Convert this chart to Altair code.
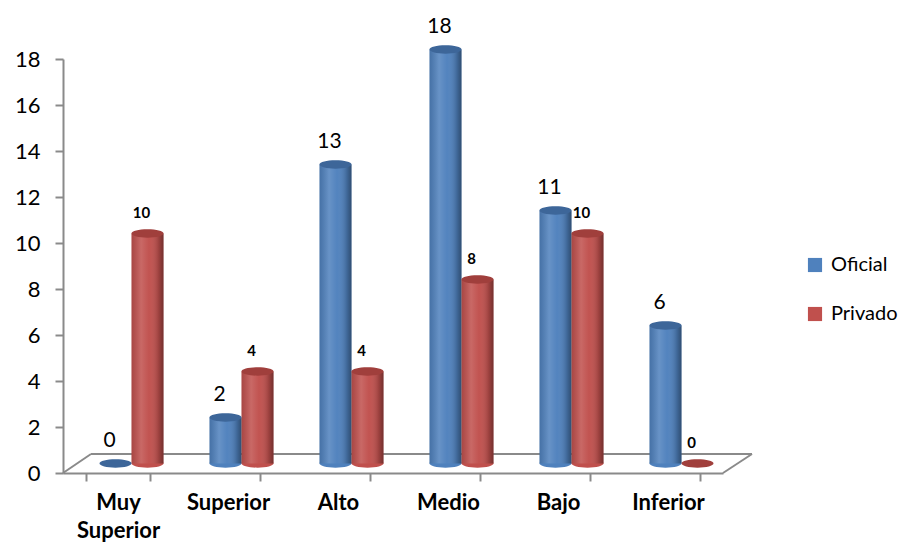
import altair as alt
import pandas as pd

categories = ["Muy Superior", "Superior", "Alto", "Medio", "Bajo", "Inferior"]
series = ["Oficial", "Privado"]
oficial = [0, 2, 13, 18, 11, 6]
privado = [10, 4, 4, 8, 10, 0]
y_ticks = [0, 2, 4, 6, 8, 10, 12, 14, 16, 18]

rows = []
for c, o, p in zip(categories, oficial, privado):
    rows.append({"cat": c, "series": "Oficial", "value": o})
    rows.append({"cat": c, "series": "Privado", "value": p})
df = pd.DataFrame(rows)

FONT = "Lato"
GREY = "#8a8a8a"
DX = 13.5
DY = -9.5
W, H = 660, 414
DEPTH_X, DEPTH_Y = 28, 19

base_colors = ["#4F81BD", "#C0504D"]
top_colors = ["#3D6699", "#A03F3C"]

ELLIPSE = "M-1,0 A1,0.26,0,1,0,1,0 A1,0.26,0,1,0,-1,0 Z"

# axis scale (unshifted)
x_axis_enc = alt.X(
    "cat:N", sort=categories,
    scale=alt.Scale(paddingInner=0.418, paddingOuter=0.209),
    axis=alt.Axis(
        title=None, labelAngle=0, labelFont=FONT, labelFontSize=22,
        labelFontWeight="bold", labelColor="black", tickBand="extent",
        tickSize=8, tickColor=GREY, tickWidth=2, domainColor=GREY,
        domainWidth=2, labelPadding=11, labelLineHeight=28,
        labelExpr="datum.value == 'Muy Superior' ? ['Muy', 'Superior'] : datum.value",
    ),
)
# data scale (shifted right by the 3D depth)
x_enc = alt.X(
    "cat:N", sort=categories,
    scale=alt.Scale(paddingInner=0.418, paddingOuter=0.209, range=[DX, W + DX]),
    axis=None,
)
xo_enc = alt.XOffset("series:N", sort=series, scale=alt.Scale(paddingInner=0, paddingOuter=0))
y_enc = alt.Y(
    "value:Q",
    scale=alt.Scale(domain=[0, 18], nice=False),
    axis=alt.Axis(
        title=None, values=y_ticks, grid=False, labelFont=FONT, labelFontSize=22,
        labelColor="black", tickSize=8, tickColor=GREY, tickWidth=2,
        domainColor=GREY, domainWidth=2, labelPadding=15,
    ),
)

color_legend = alt.Color(
    "series:N", sort=series,
    scale=alt.Scale(domain=series, range=base_colors),
    legend=alt.Legend(
        title=None, orient="none", legendX=742, legendY=196,
        symbolType="square", symbolSize=200, symbolStrokeWidth=0,
        labelFont=FONT, labelFontSize=20, labelColor="black",
        rowPadding=29, labelOffset=6,
    ),
)

one = pd.DataFrame({"a": [0]})
floor_back = alt.Chart(one).mark_rule(color=GREY, strokeWidth=2).encode(
    x=alt.value(DEPTH_X), x2=alt.value(W + DEPTH_X + 1), y=alt.value(H - DEPTH_Y)
)
floor_left = alt.Chart(one).mark_rule(color=GREY, strokeWidth=2).encode(
    x=alt.value(0), x2=alt.value(DEPTH_X), y=alt.value(H), y2=alt.value(H - DEPTH_Y)
)
floor_right = alt.Chart(one).mark_rule(color=GREY, strokeWidth=2).encode(
    x=alt.value(W), x2=alt.value(W + DEPTH_X + 1), y=alt.value(H), y2=alt.value(H - DEPTH_Y)
)

base = alt.Chart(df)

axis_layer = base.mark_point(opacity=0).encode(x=x_axis_enc, y=y_enc)

bottoms = base.mark_point(
    shape=ELLIPSE, size=1024, filled=True, opacity=1, yOffset=DY
).encode(
    x=x_enc, xOffset=xo_enc, y=alt.Y("zero:Q", scale=alt.Scale(domain=[0, 18], nice=False)),
    color=alt.Color("series:N", sort=series, scale=alt.Scale(domain=series, range=base_colors), legend=None),
).transform_calculate(zero="0").transform_filter("datum.value > 0")

bars = base.mark_bar(
    yOffset=DY, y2Offset=DY, opacity=1
).encode(x=x_enc, xOffset=xo_enc, y=y_enc, color=color_legend)

shade = alt.Gradient(
    gradient="linear", x1=0, x2=1, y1=0, y2=0,
    stops=[
        alt.GradientStop(offset=0, color="rgba(0,0,0,0.12)"),
        alt.GradientStop(offset=0.3, color="rgba(255,255,255,0.14)"),
        alt.GradientStop(offset=0.55, color="rgba(255,255,255,0.02)"),
        alt.GradientStop(offset=0.85, color="rgba(0,0,0,0.18)"),
        alt.GradientStop(offset=1, color="rgba(0,0,0,0.4)"),
    ],
)
shading = base.mark_bar(
    yOffset=DY, y2Offset=DY, color=shade
).encode(x=x_enc, xOffset=xo_enc, y=y_enc)

tops = base.mark_point(
    shape=ELLIPSE, size=1024, filled=True, opacity=1, yOffset=DY
).encode(
    x=x_enc, xOffset=xo_enc, y=y_enc,
    color=alt.Color("series:N", sort=series, scale=alt.Scale(domain=series, range=top_colors), legend=None),
)

lab_of = base.transform_filter("datum.series == 'Oficial'").mark_text(
    font=FONT, fontSize=21, color="black", baseline="middle",
    dx=-6, dy=DY - 23,
).encode(x=x_enc, xOffset=xo_enc, y=y_enc, text="value:Q")

lab_pr = base.transform_filter("datum.series == 'Privado'").mark_text(
    font=FONT, fontSize=15, fontWeight="bold", color="black", baseline="middle",
    dx=-6, dy=DY - 21,
).encode(x=x_enc, xOffset=xo_enc, y=y_enc, text="value:Q")

chart = alt.layer(
    axis_layer, floor_back, floor_left, floor_right, bottoms, bars, shading, tops, lab_of, lab_pr
).resolve_scale(color="independent", x="independent").properties(
    width=W, height=H,
    autosize=alt.AutoSizeParams(type="none"),
    padding={"left": 55, "top": 51, "right": 181, "bottom": 71},
).configure(background="white").configure_view(strokeWidth=0, stroke="transparent")

chart.save("out.html", embed_options={"renderer": "svg", "actions": False})
